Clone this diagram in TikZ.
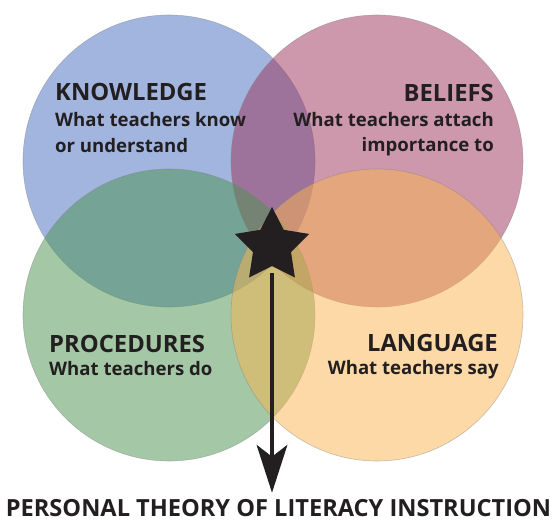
\documentclass[tikz,border=0pt]{standalone}
\usepackage{fontspec}
\setmainfont{Open Sans}
\usetikzlibrary{shapes.geometric,arrows.meta,calc}
\definecolor{ink}{HTML}{231F20}
\definecolor{cblue}{RGB}{69,109,193}
\definecolor{cpink}{RGB}{157,51,89}
\definecolor{cgreen}{RGB}{75,147,77}
\definecolor{corange}{RGB}{251,181,81}
\tikzset{
  venn/.style={circle, minimum size=292pt, inner sep=0pt, fill opacity=0.5,
    draw=black!50, line width=0.6pt, draw opacity=0.45},
  head/.style={font=\bfseries\fontsize{23.8}{23.8}\selectfont, text=ink, inner sep=0pt},
  sub/.style={font=\bfseries\fontsize{18.6}{18.6}\selectfont, text=ink, inner sep=0pt},
  bigtitle/.style={font=\bfseries\fontsize{23.6}{23.6}\selectfont, text=ink, inner sep=0pt},
  starnode/.style={star, star points=5, star point ratio=1.95, minimum size=78pt,
    inner sep=0pt, fill=ink, draw=none},
  bigarrow/.style={draw=ink, line width=4.5pt,
    -{Stealth[length=48pt,width=31pt,inset=12pt,line width=0pt]}, shorten >=6pt}
}
\begin{document}
\begin{tikzpicture}[x=1pt,y=-1pt]
\useasboundingbox[fill=white] (0,0) rectangle (553,519);
% circles
\node[venn, fill=cblue]   (know) at (169,161) {};
\node[venn, fill=cpink]   (beli) at (377,161) {};
\node[venn, fill=cgreen]  (proc) at (169,315) {};
\node[venn, fill=corange] (lang) at (377,315) {};
% labels
\node[head, anchor=base west] (knowT)  at (55,100) {KNOWLEDGE};
\node[sub,  anchor=base west] (knowS1) at (55,126) {What teachers know};
\node[sub,  anchor=base west] (knowS2) at (55,152) {or understand};
\node[head, anchor=base east] (beliT)  at (494,101) {BELIEFS};
\node[sub,  anchor=base east] (beliS1) at (494,126) {What teachers attach};
\node[sub,  anchor=base east] (beliS2) at (494,151) {importance to};
\node[head, anchor=base west] (procT)  at (49,352) {PROCEDURES};
\node[sub,  anchor=base west] (procS)  at (49,375) {What teachers do};
\node[head, anchor=base east] (langT)  at (498,351) {LANGUAGE};
\node[sub,  anchor=base east] (langS)  at (499,374) {What teachers say};
\node[bigtitle, anchor=base] (theory) at (278.5,516) {PERSONAL THEORY OF LITERACY INSTRUCTION};
% star and arrow
\node[starnode] (star) at (272,246) {};
\draw[bigarrow] ($(star.center)+(0,27)$) -- (star.center |- theory.north);
\end{tikzpicture}
\end{document}
